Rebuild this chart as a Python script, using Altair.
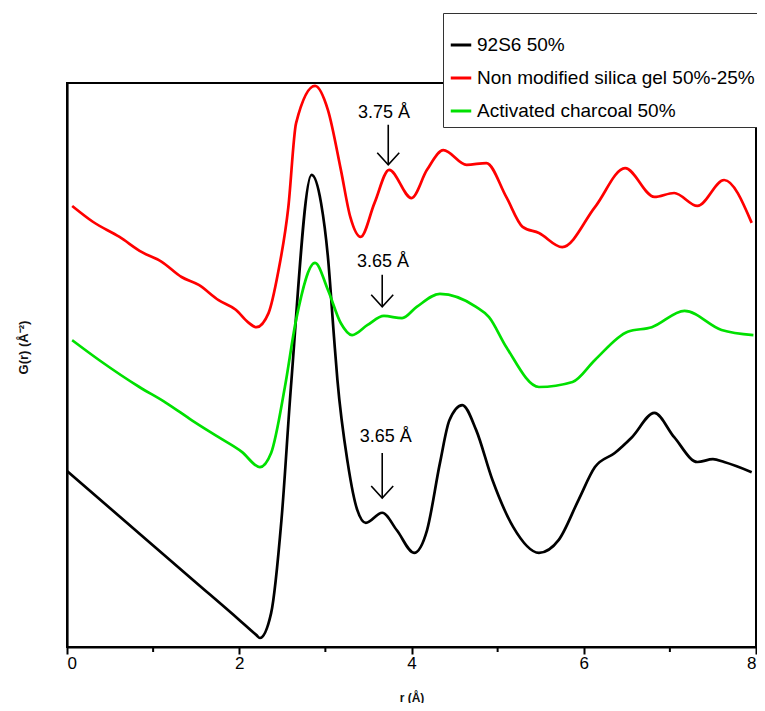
import altair as alt
import pandas as pd

# ---- data (G(r) in arbitrary offset units) ----
names = ["92S6 50%", "Non modified silica gel 50%-25%", "Activated charcoal 50%"]
colors = ["#000000", "#ff0000", "#00e000"]

black_r = [0.0, 0.5, 1.0, 1.5, 2.0, 2.2, 2.24, 2.37, 2.49, 2.6, 2.84, 2.95, 3.03, 3.1,
           3.14, 3.26, 3.37, 3.47, 3.66, 3.83, 4.03, 4.18, 4.33, 4.44, 4.59, 4.75,
           4.94, 5.18, 5.48, 5.71, 5.94, 6.13, 6.36, 6.56, 6.82, 7.05, 7.32, 7.5, 7.63, 7.95]
black_g = [3.12, 2.46, 1.80, 1.14, 0.48, 0.21, 0.16, 0.60, 2.25, 4.61, 8.37, 7.87, 6.91, 5.50,
           4.73, 3.26, 2.43, 2.20, 2.38, 2.07, 1.67, 2.07, 3.26, 4.02, 4.29, 3.85,
           2.96, 2.13, 1.67, 1.90, 2.61, 3.19, 3.44, 3.72, 4.15, 3.72, 3.28, 3.33, 3.28, 3.10]

red_r = [0.06, 0.3, 0.61, 0.87, 1.1, 1.33, 1.53, 1.76, 1.96, 2.1, 2.2, 2.34, 2.45, 2.57,
         2.66, 2.88, 3.03, 3.18, 3.29, 3.41, 3.57, 3.74, 4.0, 4.18, 4.37, 4.64, 4.87,
         5.1, 5.29, 5.48, 5.75, 6.13, 6.48, 6.82, 7.05, 7.32, 7.63, 7.95]
red_g = [7.82, 7.54, 7.27, 7.00, 6.83, 6.56, 6.42, 6.15, 5.98, 5.76, 5.67, 5.92, 6.63, 7.80,
         9.29, 9.95, 9.52, 8.46, 7.62, 7.27, 7.87, 8.46, 7.96, 8.46, 8.81, 8.55, 8.58,
         7.98, 7.45, 7.34, 7.09, 7.80, 8.49, 7.98, 8.05, 7.82, 8.28, 7.52]

green_r = [0.06, 0.38, 0.84, 1.15, 1.45, 1.76, 2.03, 2.24, 2.37, 2.53, 2.66, 2.88,
           3.03, 3.18, 3.31, 3.49, 3.68, 3.89, 4.06, 4.33, 4.75, 4.9, 5.1, 5.48, 5.87,
           6.13, 6.51, 6.79, 7.17, 7.6, 7.97]
green_g = [5.44, 5.08, 4.61, 4.33, 4.02, 3.72, 3.46, 3.19, 3.44, 4.61, 5.80, 6.81,
           6.33, 5.74, 5.53, 5.71, 5.87, 5.83, 6.03, 6.26, 6.03, 5.85, 5.32, 4.61, 4.70,
           5.09, 5.59, 5.67, 5.96, 5.62, 5.53]

x_ticks = [0, 2, 4, 6, 8]
x_minor = [1, 3, 5, 7]

ann_text = ["3.75 Å", "3.65 Å", "3.65 Å"]
ann_tx = [3.68, 3.67, 3.70]
ann_ty = [9.47, 6.83, 3.72]
ann_ax = [3.73, 3.66, 3.66]
ann_top = [9.26, 6.60, 3.44]
ann_tip = [8.55, 6.03, 2.64]

# ---- tables ----
rows = []
for nm, rs, gs in [(names[0], black_r, black_g), (names[1], red_r, red_g), (names[2], green_r, green_g)]:
    for r, g in zip(rs, gs):
        rows.append({"series": nm, "r": r, "G": g})
df = pd.DataFrame(rows)
ann = pd.DataFrame({"text": ann_text, "tx": ann_tx, "ty": ann_ty,
                    "ax": ann_ax, "top": ann_top, "tip": ann_tip})
minor = pd.DataFrame({"m": x_minor})

FONT = "Liberation Sans"
W, H = 689, 564

xscale = alt.Scale(domain=[0, 8], nice=False)
yscale = alt.Scale(domain=[0, 10], nice=False)

lines = alt.Chart(df).mark_line(interpolate="monotone", strokeWidth=2.7).encode(
    x=alt.X("r:Q", scale=xscale,
            axis=alt.Axis(values=x_ticks, title="r (Å)", tickSize=7, labelPadding=1,
                          titleFontWeight="bold", titleFontSize=12, titleY=50,
                          titleBaseline="middle", format="d")),
    y=alt.Y("G:Q", scale=yscale,
            axis=alt.Axis(labels=False, ticks=False, title="G(r) (Å⁻²)",
                          titleFontWeight="bold", titleFontSize=13, titleX=-44,
                          titleY=264, titleBaseline="middle", titleAngle=-90)),
    color=alt.Color("series:N", scale=alt.Scale(domain=names, range=colors),
                    legend=alt.Legend(orient="none", legendX=376, legendY=-70,
                                      title=" ", titleFontSize=9, titlePadding=5,
                                      symbolType="stroke", symbolStrokeWidth=3,
                                      symbolSize=420, labelFontSize=19, labelFont=FONT,
                                      labelColor="black", labelLimit=400,
                                      rowPadding=11, padding=6, labelOffset=4,
                                      fillColor="white", strokeColor="#333333")),
)

minor_ticks = alt.Chart(minor).mark_rule(color="black", strokeWidth=2).encode(
    x=alt.X("m:Q", scale=xscale),
    y=alt.value(H),
    y2=alt.value(H + 5),
)

shafts = alt.Chart(ann).mark_rule(color="black", strokeWidth=1.6).encode(
    x=alt.X("ax:Q", scale=xscale),
    y=alt.Y("top:Q", scale=yscale),
    y2="tip:Q",
)

heads = alt.Chart(ann).mark_point(shape="M-1,-1.1L0,0L1,-1.1", filled=False,
                                  color="black", strokeWidth=1.6, size=484,
                                  opacity=1).encode(
    x=alt.X("ax:Q", scale=xscale),
    y=alt.Y("tip:Q", scale=yscale),
)

labels = alt.Chart(ann).mark_text(font=FONT, fontSize=18, color="black",
                                  baseline="middle", align="center").encode(
    x=alt.X("tx:Q", scale=xscale),
    y=alt.Y("ty:Q", scale=yscale),
    text="text:N",
)

chart = alt.layer(lines, minor_ticks, shafts, heads, labels).properties(
    width=W, height=H,
    autosize=alt.AutoSizeParams(type="none"),
    padding={"left": 59, "top": 75, "right": 1, "bottom": 56},
).configure_view(
    stroke="black", strokeWidth=2
).configure_axis(
    domainColor="black", domainWidth=2.2, tickColor="black", tickWidth=2,
    labelFont=FONT, labelFontSize=17, labelColor="black", titleFont=FONT,
    titleColor="#111111", grid=False
)

chart.save("out.html", embed_options={"renderer": "svg", "actions": False})
